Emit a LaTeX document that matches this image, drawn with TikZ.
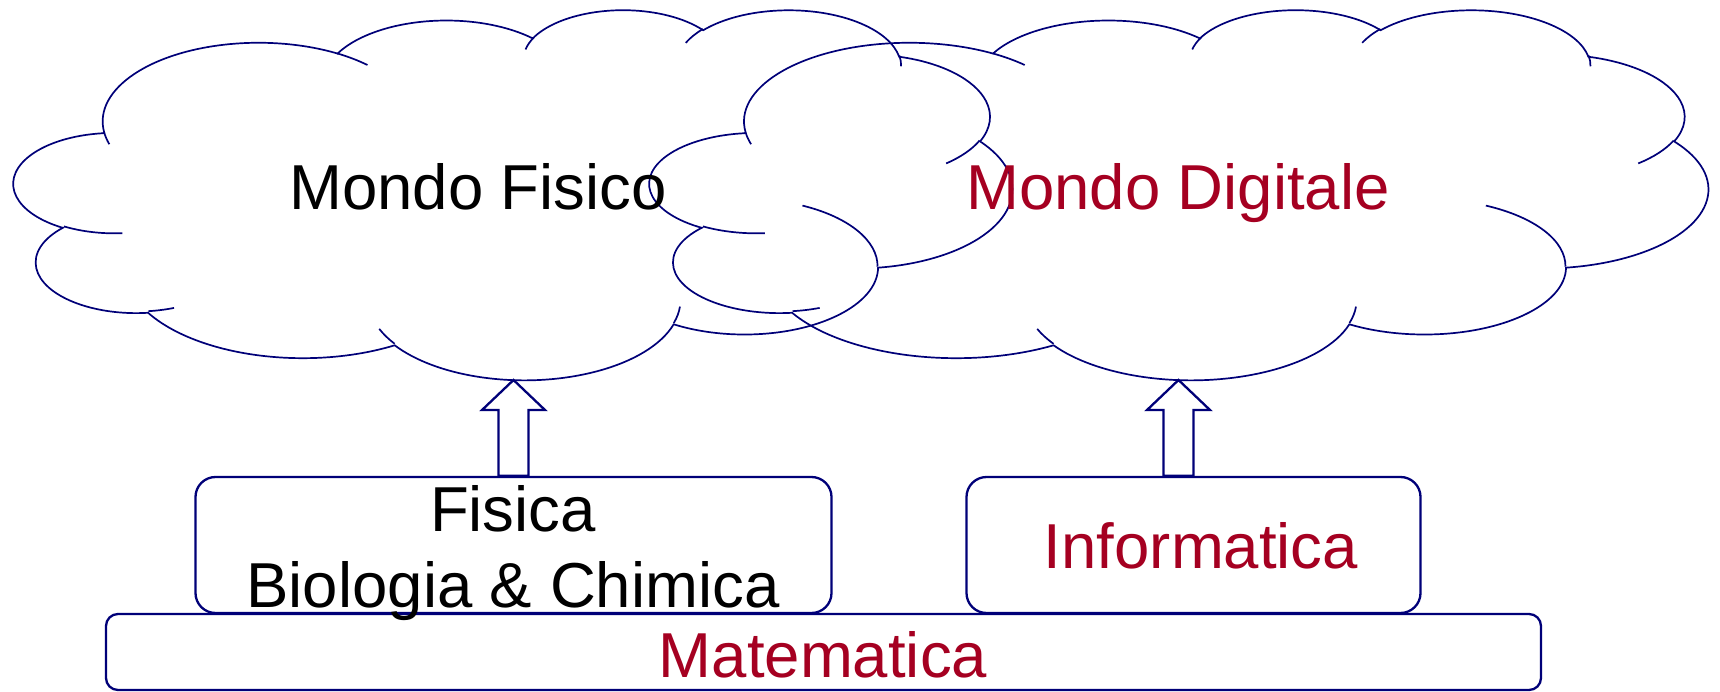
\documentclass[tikz,border=0pt]{standalone}
\usepackage{fontspec}
\setmainfont{Liberation Sans}
\usetikzlibrary{calc}
\definecolor{edgeblue}{RGB}{0,0,120}
\definecolor{txtred}{RGB}{165,0,33}
\tikzset{
  % elliptical arc given by radii and visual start angle / sweep (degrees)
  carc/.code n args={4}{%
    \pgfmathsetmacro\carcS{atan2((#1)*sin(#3),(#2)*cos(#3))}%
    \pgfmathsetmacro\carcE{atan2((#1)*sin((#3)+(#4)),(#2)*cos((#3)+(#4)))}%
    \pgfmathsetmacro\carcD{mod((\carcE)-(\carcS)+720,360)}%
    \pgfkeysalso{x radius=#1, y radius=#2, start angle=\carcS, delta angle=\carcD}},
  cloudline/.style={draw=edgeblue, line width=1.7pt},
  panel/.style={draw=edgeblue, fill=white, line width=2.3pt, rounded corners=20pt,
    inner sep=0pt, minimum height=136pt},
  basepanel/.style={draw=edgeblue, fill=white, line width=2.3pt, rounded corners=12pt,
    inner sep=0pt, minimum height=76pt},
  arrowline/.style={draw=edgeblue, fill=white, line width=2.3pt, line join=miter},
  lbl/.style={font=\fontsize{63.5}{76}\selectfont, inner sep=0pt, anchor=base},
  redlbl/.style={lbl, text=txtred}
}
% cloud outline in a 432 x 432 frame: left, top, width, height
\newcommand\drawcloud[4]{%
  \pgfmathsetmacro\cloudW{#3/432}%
  \pgfmathsetmacro\cloudH{#4/432}%
  \begin{scope}[shift={(#1,#2)}, x=\cloudW pt, y=-\cloudH pt]
    \draw[cloudline] (39.00,143.70)
      arc[carc={67.53}{91.90}{-190.4875}{123.7805}]
      arc[carc={53.33}{72.67}{-144.1024}{89.9452}]
      arc[carc={43.65}{59.45}{-145.8079}{99.7230}]
      arc[carc={48.57}{65.95}{-130.9861}{117.2417}]
      arc[carc={53.33}{72.73}{-78.7089}{109.0269}]
      arc[carc={67.75}{92.20}{-46.2673}{130.2690}]
      arc[carc={57.85}{78.67}{0.6250}{114.0333}]
      arc[carc={67.52}{92.15}{22.4516}{115.1726}]
      arc[carc={77.20}{105.43}{66.2426}{75.7110}]
      arc[carc={43.60}{59.18}{-274.9421}{146.7356}]
      arc[carc={43.45}{59.45}{-246.8285}{152.5189}]
      -- cycle;
    \draw[cloudline]
      (46.93,261.77) arc[carc={43.45}{59.45}{86.7420}{26.4295}]
      (69.28,348.99) arc[carc={43.60}{59.18}{73.6105}{11.4475}]
      (164.78,390.90) arc[carc={67.52}{92.15}{137.6242}{14.0811}]
      (288.27,347.51) arc[carc={67.52}{92.15}{6.4533}{15.9984}]
      (341.29,229.54) arc[carc={57.85}{78.67}{-70.2924}{70.9174}]
      (417.98,153.54) arc[carc={53.33}{72.73}{30.3180}{27.7515}]
      (383.24,54.26) arc[carc={48.57}{65.95}{-13.7443}{14.8589}]
      (290.78,39.52) arc[carc={48.57}{65.95}{-149.1815}{18.1954}]
      (221.41,47.20) arc[carc={43.65}{59.45}{-163.4943}{17.6864}]
      (140.00,51.92) arc[carc={67.53}{91.90}{-66.7070}{12.3194}]
      (41.27,157.89) arc[carc={67.53}{91.90}{157.6544}{11.8582}];
  \end{scope}%
}
% hollow block arrow from a base point up to a tip
\newcommand\blockarrow[2]{%
  \draw[arrowline] ($(#1)+(-15,0)$) -- ($(#2)+(-15,30)$) -- ($(#2)+(-31.5,30)$)
    -- (#2) -- ($(#2)+(31.5,30)$) -- ($(#2)+(15,30)$) -- ($(#1)+(15,0)$) -- cycle;
}
\begin{document}
\begin{tikzpicture}[x=1pt, y=-1pt]
  \useasboundingbox (0,0) rectangle (1720,692);

  % layered boxes
  \node[basepanel, minimum width=1435pt] (matbox) at (823.5,652) {};
  \node[panel, minimum width=636pt] (fisbox) at (513.5,545) {};
  \node[panel, minimum width=454pt] (infbox) at (1193.5,545) {};

  % the two worlds
  \drawcloud{14}{9}{998}{370}
  \drawcloud{650}{9}{1058}{370}

  % arrows from the sciences to their worlds
  \coordinate (fistip) at (513.5,380);
  \coordinate (digtip) at (1178.5,380);
  \coordinate (digbase) at (digtip |- infbox.north);
  \blockarrow{fisbox.north}{fistip}
  \blockarrow{digbase}{digtip}

  % labels
  \node[lbl] (mfis) at (478,210) {Mondo Fisico};
  \node[redlbl] (mdig) at (1178,210) {Mondo Digitale};
  \node[lbl] (tfis) at (513,531) {Fisica};
  \node[lbl] (tbio) at (513,607) {Biologia \& Chimica};
  \node[redlbl] (tinf) at (1201,568) {Informatica};
  \node[redlbl] (tmat) at (823,677) {Matematica};
\end{tikzpicture}
\end{document}
